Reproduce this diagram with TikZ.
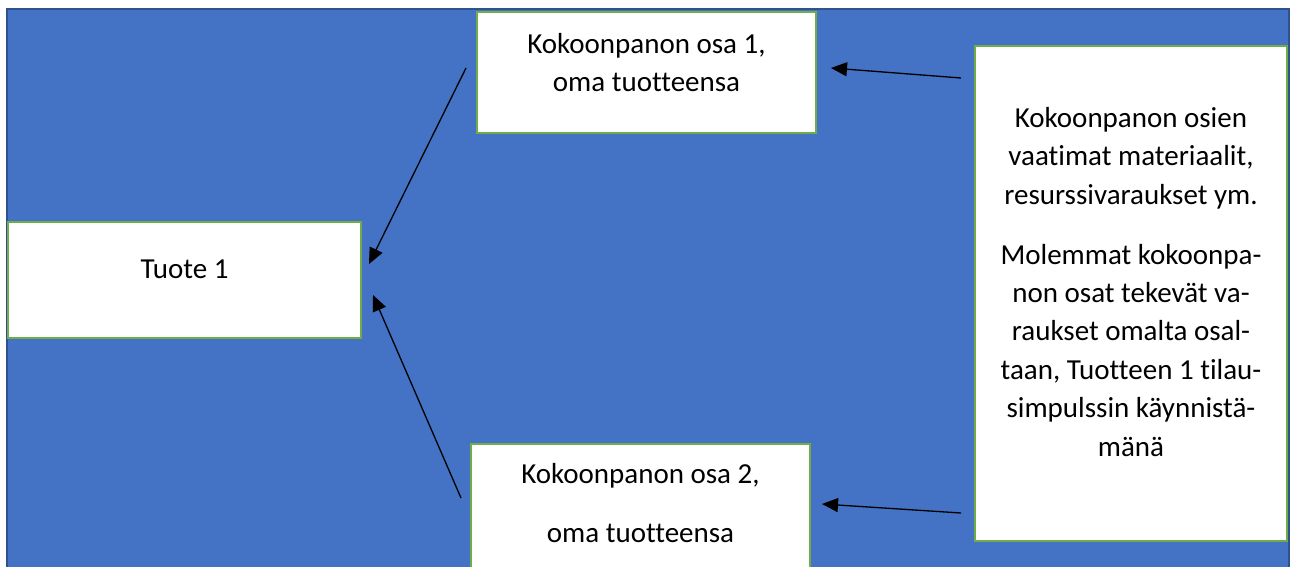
\documentclass[tikz,border=0pt]{standalone}
\usepackage{fontspec}
\setmainfont{Carlito}[Ligatures={NoCommon}]
\usetikzlibrary{arrows.meta}
\definecolor{bgblue}{HTML}{4472C4}
\definecolor{bgborder}{HTML}{2F528F}
\definecolor{boxgreen}{HTML}{70AD47}
\tikzset{
  box/.style={draw=boxgreen, line width=2.5pt, fill=white, rectangle, inner sep=0pt},
  txt/.style={inner sep=0pt, align=center, font=\fontsize{29}{38.4}\selectfont},
  conn/.style={line width=1.3pt, -{Triangle[length=16pt,width=14pt]}}
}
\begin{document}
\begin{tikzpicture}[x=1pt,y=-1pt]
\clip (0,0) rectangle (1293,567);
\fill[white] (0,0) rectangle (1293,567);
\draw[fill=bgblue, draw=bgborder, line width=2pt] (6.5,9) rectangle (1289,600);

% boxes
\node[box, minimum width=353pt, minimum height=116pt] (tuote) at (184.5,280) {};
\node[box, minimum width=339pt, minimum height=121pt] (osa1) at (646.5,72.5) {};
\node[box, minimum width=339pt, minimum height=150pt] (osa2) at (640.5,519) {};
\node[box, minimum width=312pt, minimum height=495pt] (info) at (1131,293.5) {};

% texts
\node[txt, anchor=base] (ttuote) at (184.5,278) {Tuote 1};
\node[txt, anchor=north] (tosa1) at (646.5,33) {Kokoonpanon osa 1,\\oma tuotteensa};
\node[txt, anchor=north] (tosa2) at (640.5,463) {Kokoonpanon osa 2,\\[20.6pt]oma tuotteensa};
\node[txt, anchor=north] (tinfo) at (1131,107) {Kokoonpanon osien\\vaatimat materiaalit,\\resurssivaraukset ym.\\[21.6pt]Molemmat kokoonpa-\\non osat tekevät va-\\raukset omalta osal-\\taan, Tuotteen 1 tilau-\\simpulssin käynnistä-\\mänä};

% connectors
\coordinate (a1s) at (466,68);
\coordinate (a1e) at (369,264);
\coordinate (a2s) at (461,498);
\coordinate (a2e) at (373,295);
\coordinate (a3s) at (961,78);
\coordinate (a3e) at (831,68);
\coordinate (a4s) at (961,513);
\coordinate (a4e) at (822,504);
\draw[conn] (a1s) -- (a1e);
\draw[conn] (a2s) -- (a2e);
\draw[conn] (a3s) -- (a3e);
\draw[conn] (a4s) -- (a4e);
\end{tikzpicture}
\end{document}
